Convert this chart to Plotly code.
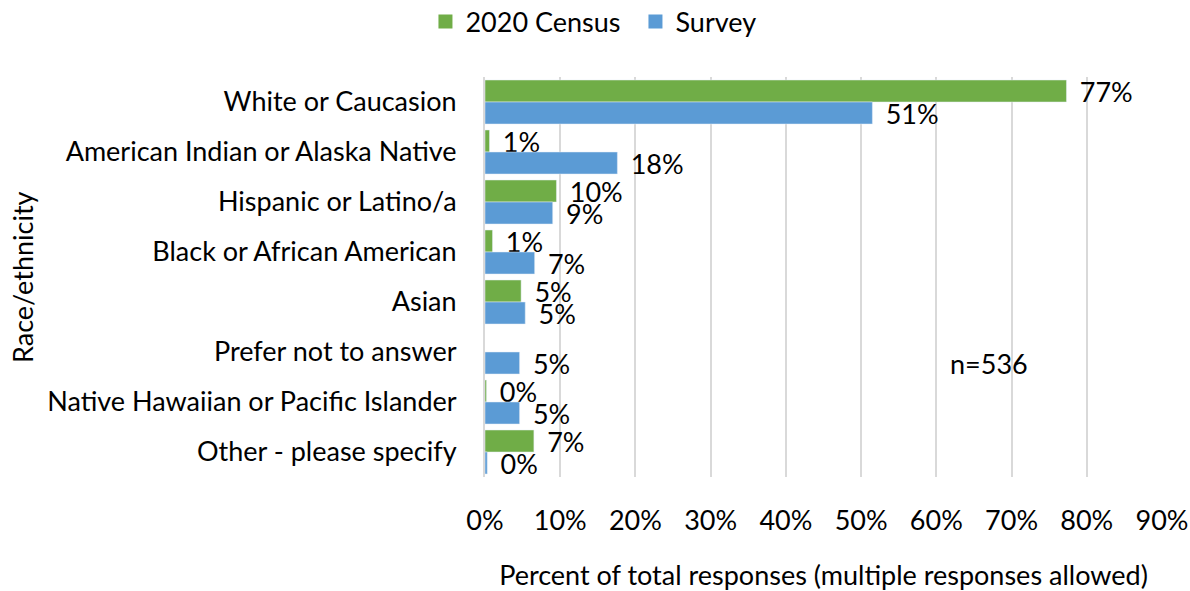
import plotly.graph_objects as go

categories = ["White or Caucasion", "American Indian or Alaska Native", "Hispanic or Latino/a",
              "Black or African American", "Asian", "Prefer not to answer",
              "Native Hawaiian or Pacific Islander", "Other - please specify"]
census = [77.3, 0.6, 9.5, 1.0, 4.8, None, 0.2, 6.5]
census_labels = ["77%", "1%", "10%", "1%", "5%", "", "0%", "7%"]
survey = [51.5, 17.6, 9.0, 6.6, 5.35, 4.6, 4.6, 0.3]
survey_labels = ["51%", "18%", "9%", "7%", "5%", "5%", "5%", "0%"]
x_ticks = [0, 10, 20, 30, 40, 50, 60, 70, 80, 90]
x_tick_labels = [f"{v}%" for v in x_ticks]
note = "n=536"

FONT = "Lato"
FS = 27
GREEN = "#70AD47"
BLUE = "#5B9BD5"
PAD = " \u2009"

fig = go.Figure()
fig.add_trace(go.Bar(
    y=categories, x=census, name="2020 Census", orientation="h",
    marker=dict(color=GREEN), showlegend=False,
    text=[PAD + t if t else "" for t in census_labels], textposition="outside",
    constraintext="none",
    textfont=dict(family=FONT, size=FS, color="#000000"), cliponaxis=False,
))
fig.add_trace(go.Bar(
    y=categories, x=survey, name="Survey", orientation="h",
    marker=dict(color=BLUE), showlegend=False,
    text=[PAD + t for t in survey_labels], textposition="outside",
    constraintext="none",
    textfont=dict(family=FONT, size=FS, color="#000000"), cliponaxis=False,
))
# legend entries with square swatches
for name, col in [("2020 Census", GREEN), ("Survey", BLUE)]:
    fig.add_trace(go.Scatter(x=[None], y=[None], mode="markers", name=name,
                             marker=dict(symbol="square", size=14, color=col),
                             showlegend=True))

fig.update_layout(
    width=1190, height=591,
    margin=dict(l=485, r=28, t=77, b=114, autoexpand=False),
    paper_bgcolor="white", plot_bgcolor="white",
    barmode="group", bargap=0.12, bargroupgap=0,
    font=dict(family=FONT, size=FS, color="#000000"),
    legend=dict(orientation="h", xref="container", yref="container",
                x=0.534, xanchor="center", y=0.963, yanchor="middle",
                font=dict(family=FONT, size=FS), itemwidth=30,
                entrywidth=165, traceorder="normal"),
    xaxis=dict(range=[0, 90], tickvals=x_ticks, ticktext=x_tick_labels,
               showgrid=True, gridcolor="#D9D9D9", gridwidth=2,
               zeroline=False, showline=False, automargin=False,
               ticks="outside", ticklen=0, ticklabelstandoff=20,
               title=dict(text="Percent of total responses (multiple responses allowed)",
                          font=dict(family=FONT, size=FS), standoff=47),
               fixedrange=True),
    yaxis=dict(autorange="reversed", showgrid=False, zeroline=False,
               showline=True, linecolor="#D9D9D9", linewidth=2, automargin=False,
               ticks="", ticklabelstandoff=21, fixedrange=True),
    annotations=[
        dict(text=note, xref="x", yref="paper", x=61.6, y=0.285,
             xanchor="left", yanchor="middle", showarrow=False,
             font=dict(family=FONT, size=FS, color="#000000")),
        dict(text="Race/ethnicity", xref="paper", yref="paper", x=-0.684, y=0.5,
             xanchor="center", yanchor="middle", textangle=-90, showarrow=False,
             font=dict(family=FONT, size=FS, color="#000000")),
    ],
)

fig.write_html("out.html", config={"displayModeBar": False},
               post_script="document.body.style.margin='0px';")
